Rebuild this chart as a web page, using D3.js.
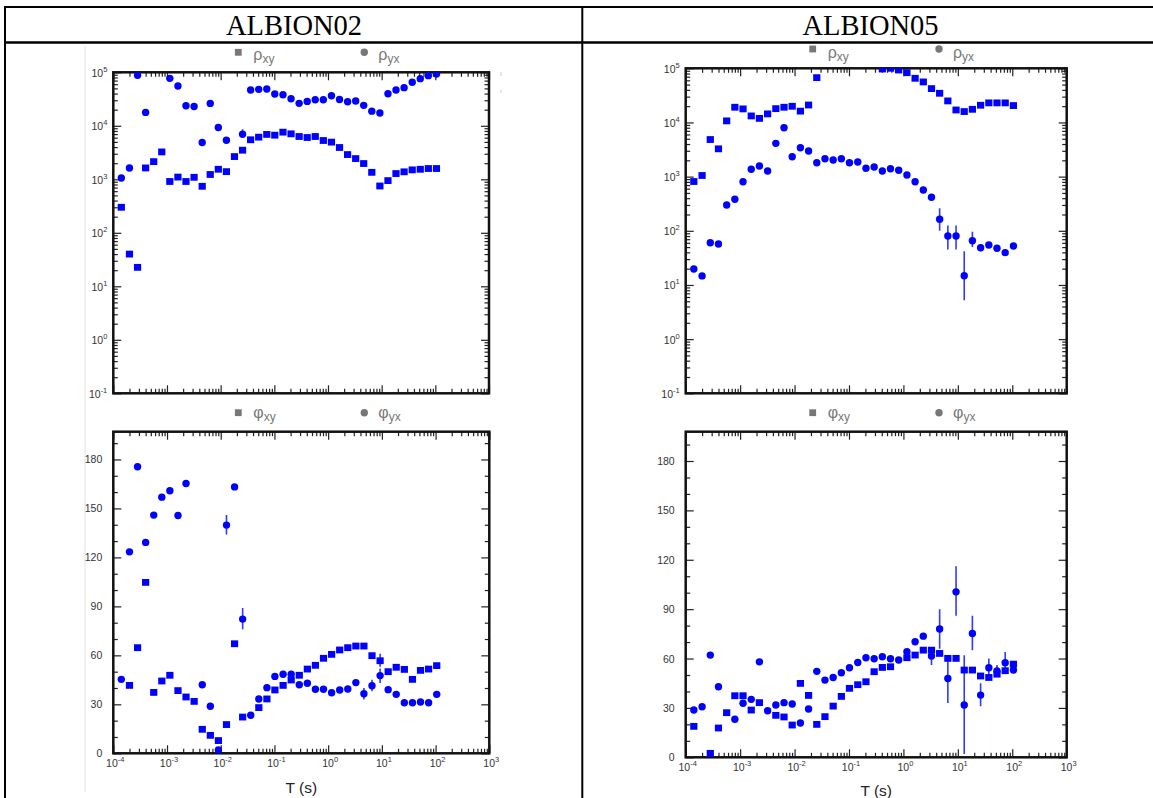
<!DOCTYPE html>
<meta charset="utf-8">
<style>
  body { margin: 0; background: #fff; }
  svg { display: block; }
  .title { font-family: 'Liberation Serif', 'Times New Roman', serif; font-size: 28.5px; fill: #000; }
  .tick-label { font-family: 'Liberation Sans', Arial, sans-serif; font-size: 10.5px; fill: #333; }
  .legend { font-family: 'Liberation Sans', Arial, sans-serif; fill: #777; }
  .axis-title { font-family: 'Liberation Sans', Arial, sans-serif; font-size: 15.5px; fill: #222; }
</style>
<body>
<script src="https://d3js.org/d3.v7.min.js"></script>
<script>

// periods (s), shared by both stations
var periods = [1.41e-4, 2.0e-4, 2.83e-4, 4.0e-4, 5.66e-4, 8.0e-4, 1.13e-3, 1.6e-3, 2.26e-3, 3.2e-3,
  4.53e-3, 6.4e-3, 9.05e-3, 1.28e-2, 1.81e-2, 2.56e-2, 3.62e-2, 5.12e-2, 7.24e-2, 0.102,
  0.145, 0.205, 0.29, 0.41, 0.579, 0.819, 1.16, 1.64, 2.32, 3.28,
  4.63, 6.55, 9.27, 13.1, 18.5, 26.2, 37.1, 52.4, 74.1, 105];

// tick values / labels
var decades = [1e-4, 1e-3, 1e-2, 1e-1, 1e0, 1e1, 1e2, 1e3];
var decadeExp = ["-4", "-3", "-2", "-1", "0", "1", "2", "3"];
var rhoDecades = [1e-1, 1e0, 1e1, 1e2, 1e3, 1e4, 1e5];
var rhoExp = ["-1", "0", "1", "2", "3", "4", "5"];
var phiTicks = [0, 30, 60, 90, 120, 150, 180];

// ALBION02
var a02RhoXY = [300, 40, 22.6, 1630, 2140, 3250, 910, 1100, 910, 1090,
  740, 1230, 1540, 1390, 2660, 3500, 5480, 6130, 6900, 6680,
  7610, 7080, 6310, 6040, 6310, 5310, 4950, 3930, 2900, 2440,
  1970, 1350, 750, 945, 1280, 1380, 1500, 1540, 1590, 1590];
var a02RhoYX = [1060, 1630, 88000, 17800, null, null, 77000, 55300, 23700, 23000,
  4870, 26200, 9300, 5370, null, 6980, 46600, 48000, 48700, 39200,
  38100, 32000, 26300, 28600, 30700, 30700, 36500, 31100, 28200, 29000,
  24100, 18800, 17300, 39800, 46600, 51600, 65000, 76100, 86600, 93000];
var a02PhiXY = [null, 41.6, 64.7, 104.7, 37.3, 44.3, 47.8, 38.4, 34.5, 31.8,
  14.7, 11, 7.8, 17.6, 67.1, 22.2, null, 28, 33.3, 38.8,
  41.6, 44.9, 47.8, 51.6, 53.9, 58.2, 60.6, 63.3, 64.7, 65.7,
  65.7, 59.8, 56.7, 50, 52.7, 51.4, 45.3, 50.8, 51.6, 53.7];
var a02PhiYX = [45.3, 123.4, 175.5, 129.2, 145.9, 156.9, 160.8, 145.7, 165.3, null,
  42, 28.8, 2, 139.8, 163.2, 82.2, 23.3, 33.3, 40.2, 47.1,
  48.4, 48.4, 42, 42.9, 39.2, 39.2, 37.1, 38.8, 39.4, 43.3,
  36.5, 41.4, 47.6, 39, 36.1, 31, 31, 31.4, 31, 36.1];
// error bars: [period index, low, high]
var a02RhoYXErr = [[15, 5900, 8600], [32, 15500, 19500]];
var a02PhiXYErr = [[32, 53, 61]];
var a02PhiYXErr = [[13, 134, 146], [15, 76, 89], [30, 33, 40], [31, 38, 45], [32, 43, 52]];

// ALBION05
var a05RhoXY = [813, 1050, 4840, 3260, 10700, 19100, 17800, 13200, 11900, 14400,
  18000, 19100, 19900, 16200, 21000, 67200, null, null, null, null,
  null, null, null, 97000, 100000, 93000, 83000, 65400, 56000, 42200,
  34600, 25000, 17000, 15900, 17500, 20800, 23000, 23000, 23000, 20500];
var a05RhoYX = [19.7, 14.7, 60.3, 57.1, 300, 382, 807, 1365, 1570, 1270,
  4120, 8010, 2330, 3420, 2970, 1810, 2140, 2030, 2140, 1810,
  1860, 1425, 1510, 1270, 1400, 1310, 1070, 807, 566, 415,
  163, 80, 80, 14.8, 65.6, 48.8, 54.7, 47.6, 39.5, 52.5];
var a05PhiXY = [18.8, null, 2.4, 17.8, 27.1, 37.4, 37.4, 28.7, 33.2, null,
  25.5, 24.5, 19.6, 44.9, 37.6, 20, 24.7, 31.1, 37, 41.9,
  44.1, 45.9, 52, 54.6, 55, null, 60.5, 62.1, 65.1, 65.1,
  63.1, 60.1, 60.1, 53, 53, 49.4, 48.5, 50.5, 52.6, 56.6];
var a05PhiYX = [28.7, 30.7, 62.1, 42.9, null, 23.1, 32.8, 35.2, 58, 28.3,
  31.8, 33.2, 32.4, 20.8, 29.3, 52.2, 46.9, 48.5, 51.4, 54.4,
  57.6, 60.5, 59.9, 61.1, 59.9, 59.1, 64.1, 70.2, 73.6, 61.5,
  77.9, 47.9, 100.5, 31.8, 75.2, 37.8, 54.4, 52.5, 57.4, 53];
var a05RhoYXErr = [[30, 100, 260], [31, 45, 125], [32, 45, 125], [33, 5.2, 42], [34, 50, 96], [35, 42, 56]];
var a05PhiYXErr = [[29, 56, 66], [30, 66, 90], [31, 33, 62], [32, 86, 116], [33, 2, 62],
  [34, 65, 86], [35, 31, 45], [36, 50, 60], [37, 49, 56], [38, 52, 64]];

var blue = "#0000ff";

var svg = d3.select("body").append("svg")
  .attr("width", 1153)
  .attr("height", 798);

svg.append("rect").attr("width", 1153).attr("height", 798).attr("fill", "#fff");

// table borders
var table = svg.append("g").attr("stroke", "#000");
table.append("line").attr("x1", 4).attr("x2", 1160).attr("y1", 7).attr("y2", 7).attr("stroke-width", 2);
table.append("line").attr("x1", 4).attr("x2", 1160).attr("y1", 42.5).attr("y2", 42.5).attr("stroke-width", 2.5);
table.append("line").attr("x1", 5).attr("x2", 5).attr("y1", 6).attr("y2", 798).attr("stroke-width", 2);
table.append("line").attr("x1", 582.3).attr("x2", 582.3).attr("y1", 6).attr("y2", 798).attr("stroke-width", 2);
table.append("line").attr("x1", 1159).attr("x2", 1159).attr("y1", 6).attr("y2", 798).attr("stroke-width", 2);

// faint edge of the pasted picture on the left
svg.append("line").attr("x1", 85).attr("x2", 85).attr("y1", 46).attr("y2", 792)
  .attr("stroke", "#e2e2e2").attr("stroke-width", 1);
svg.append("line").attr("x1", 501).attr("x2", 501).attr("y1", 72).attr("y2", 76).attr("stroke", "#ccc");
svg.append("line").attr("x1", 501).attr("x2", 501).attr("y1", 90).attr("y2", 93).attr("stroke", "#ccc");

svg.append("text").attr("class", "title").attr("x", 294).attr("y", 35)
  .attr("text-anchor", "middle").text("ALBION02");
svg.append("text").attr("class", "title").attr("x", 870.5).attr("y", 35)
  .attr("text-anchor", "middle").text("ALBION05");

function logMinors(majors) {
  var out = [];
  majors.slice(0, -1).forEach(function (m) {
    for (var k = 2; k <= 9; k++) out.push(m * k);
  });
  return out;
}

function tickSet(g, axisFn, scale, values, size, tr) {
  var a = g.append("g").attr("transform", tr)
    .call(axisFn(scale).tickValues(values).tickSize(-size).tickFormat(""));
  a.select(".domain").remove();
  a.selectAll("line").attr("stroke", "#222").attr("stroke-width", 1.2);
}

var clipId = 0;

function drawPanel(p) {
  var g = svg.append("g");
  var x = d3.scaleLog().domain([1e-4, 1e3]).range([p.left, p.right]);
  var y = p.kind == "rho"
    ? d3.scaleLog().domain([1e-1, 1e5]).range([p.bottom, p.top])
    : d3.scaleLinear().domain([0, p.phiMax]).range([p.bottom, p.top]);

  var yMajor = p.kind == "rho" ? rhoDecades : phiTicks;
  var yMinor = p.kind == "rho" ? logMinors(rhoDecades)
    : d3.range(10, p.phiMax, 10).filter(function (v) { return v % 30 != 0; });
  if (p.kind != "rho") yMajor = yMajor.concat([]);
  var xMinor = logMinors(decades);

  // ticks on all four sides, pointing inward
  [[decades, 8], [xMinor, 4.5]].forEach(function (s) {
    tickSet(g, d3.axisBottom, x, s[0], s[1], "translate(0," + p.bottom + ")");
    tickSet(g, d3.axisTop, x, s[0], s[1], "translate(0," + p.top + ")");
  });
  [[yMajor, 8], [yMinor, 4.5]].forEach(function (s) {
    tickSet(g, d3.axisLeft, y, s[0], s[1], "translate(" + p.left + ",0)");
    tickSet(g, d3.axisRight, y, s[0], s[1], "translate(" + p.right + ",0)");
  });

  g.append("rect")
    .attr("x", p.left).attr("y", p.top)
    .attr("width", p.right - p.left).attr("height", p.bottom - p.top)
    .attr("fill", "none").attr("stroke", "#111").attr("stroke-width", 2.5);

  // y labels
  if (p.kind == "rho") {
    rhoDecades.forEach(function (v, i) {
      var t = g.append("text").attr("class", "tick-label")
        .attr("x", p.left - 6).attr("y", y(v) + 4.5).attr("text-anchor", "end");
      t.append("tspan").text("10");
      t.append("tspan").attr("font-size", 7.5).attr("dy", -5).text(rhoExp[i]);
    });
  } else {
    phiTicks.forEach(function (v) {
      g.append("text").attr("class", "tick-label")
        .attr("x", p.left - 11).attr("y", y(v) + 4).attr("text-anchor", "end")
        .attr("font-size", 11).text(v);
    });
    decades.forEach(function (v, i) {
      var t = g.append("text").attr("class", "tick-label")
        .attr("x", x(v) + 2).attr("y", p.bottom + 13.5).attr("text-anchor", "middle");
      t.append("tspan").text("10");
      t.append("tspan").attr("font-size", 7.5).attr("dy", -5).text(decadeExp[i]);
    });
    g.append("text").attr("class", "axis-title")
      .attr("x", (p.left + p.right) / 2).attr("y", p.xTitleY)
      .attr("text-anchor", "middle").text("T (s)");
  }

  // legend
  var sym = p.kind == "rho" ? "\u03c1" : "\u03c6";
  g.append("rect").attr("x", p.legX1 - 3.4).attr("y", p.legY - 3.4)
    .attr("width", 6.8).attr("height", 6.8).attr("fill", "#777");
  g.append("circle").attr("cx", p.legX2).attr("cy", p.legY).attr("r", 3.7).attr("fill", "#777");
  [[p.legX1 + 15, "xy"], [p.legX2 + 14, "yx"]].forEach(function (l) {
    var t = g.append("text").attr("class", "legend").attr("x", l[0]).attr("y", p.legBase);
    t.append("tspan").attr("font-size", 16).text(sym);
    t.append("tspan").attr("font-size", 12).attr("dy", 3).text(l[1]);
  });

  // marks, clipped to the frame
  clipId++;
  g.append("clipPath").attr("id", "clip" + clipId)
    .append("rect")
    .attr("x", p.left).attr("y", p.top)
    .attr("width", p.right - p.left).attr("height", p.bottom - p.top);
  var m = g.append("g").attr("clip-path", "url(#clip" + clipId + ")");

  p.errors.forEach(function (e) {
    m.append("line")
      .attr("x1", x(periods[e[0]])).attr("x2", x(periods[e[0]]))
      .attr("y1", y(e[1])).attr("y2", y(e[2]))
      .attr("stroke", "#2b3cff").attr("stroke-width", 1.6);
  });

  var sq = periods.map(function (t, i) { return { t: t, v: p.xy[i] }; })
    .filter(function (d) { return d.v != null; });
  var ci = periods.map(function (t, i) { return { t: t, v: p.yx[i] }; })
    .filter(function (d) { return d.v != null; });

  m.selectAll(".sq").data(sq).join("rect")
    .attr("class", "sq")
    .attr("x", function (d) { return x(d.t) - 3.6; })
    .attr("y", function (d) { return y(d.v) - 3.4; })
    .attr("width", 7.2).attr("height", 6.8)
    .attr("fill", blue);

  m.selectAll(".ci").data(ci).join("circle")
    .attr("class", "ci")
    .attr("cx", function (d) { return x(d.t); })
    .attr("cy", function (d) { return y(d.v); })
    .attr("r", 3.7)
    .attr("fill", blue);
}

drawPanel({ kind: "rho", left: 113.3, right: 489, top: 72.3, bottom: 393.3,
  xy: a02RhoXY, yx: a02RhoYX, errors: a02RhoYXErr,
  legX1: 238.3, legX2: 364.3, legY: 52.3, legBase: 60 });
drawPanel({ kind: "phi", left: 113.3, right: 489.3, top: 431.7, bottom: 753.3, phiMax: 197,
  xy: a02PhiXY, yx: a02PhiYX, errors: a02PhiXYErr.concat(a02PhiYXErr), xTitleY: 792.5,
  legX1: 238.3, legX2: 364.3, legY: 412.7, legBase: 418 });
drawPanel({ kind: "rho", left: 685.7, right: 1066.7, top: 68.3, bottom: 393.3,
  xy: a05RhoXY, yx: a05RhoYX, errors: a05RhoYXErr,
  legX1: 812.7, legX2: 939, legY: 49, legBase: 57.5 });
drawPanel({ kind: "phi", left: 685.7, right: 1066.7, top: 431.7, bottom: 757.3, phiMax: 197.8,
  xy: a05PhiXY, yx: a05PhiYX, errors: a05PhiYXErr, xTitleY: 796,
  legX1: 812.7, legX2: 939, legY: 412.7, legBase: 418 });

</script>
</body>
